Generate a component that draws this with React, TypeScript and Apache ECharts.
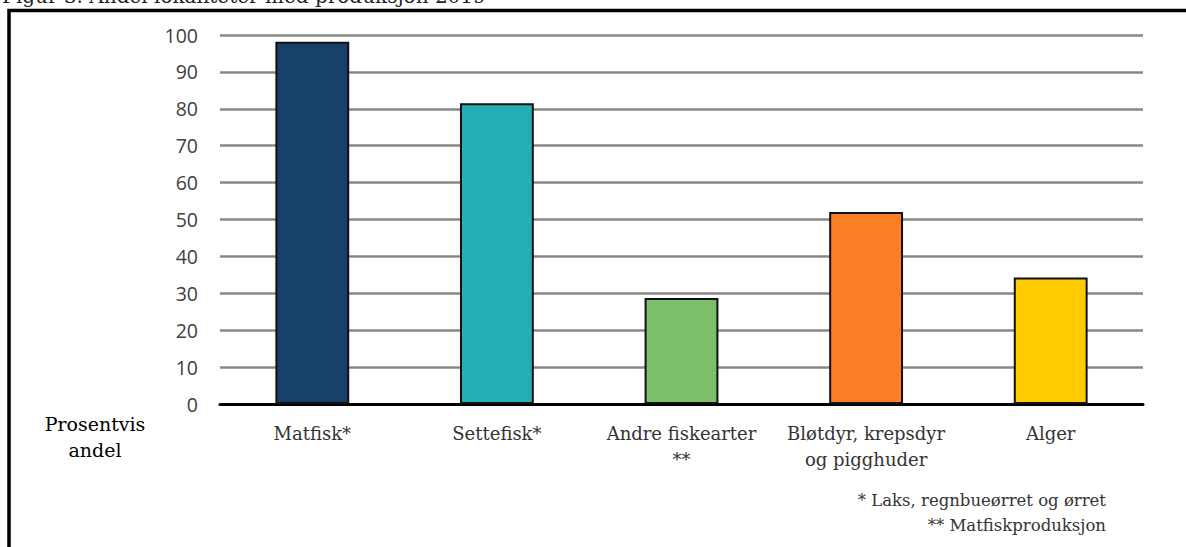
import React, { useEffect, useRef } from "react";
import * as echarts from "echarts";

const categories = ["Matfisk*", "Settefisk*", "Andre fiskearter\n**", "Bløtdyr, krepsdyr\nog pigghuder", "Alger"];
const values = [98.2, 81.5, 28.7, 52.0, 34.3];
const colors = ["#17406A", "#24AFB5", "#7DBE6A", "#FB7E25", "#FFCC00"];
const yTicks = [0, 10, 20, 30, 40, 50, 60, 70, 80, 90, 100];
const titleText = "Figur 3. Andel lokaliteter med produksjon 2019";
const yAxisTitle = "Prosentvis\nandel";
const footnotes = ["* Laks, regnbueørret og ørret", "** Matfiskproduksjon"];

const SERIF = "DejaVu Serif";
const SANS = "Open Sans";

export default function App() {
  const ref = useRef<HTMLDivElement>(null);
  useEffect(() => {
    if (!ref.current) return;
    const chart = echarts.init(ref.current, undefined, { renderer: "svg" });
    chart.setOption({
      animation: false,
      backgroundColor: "#ffffff",
      grid: { left: 220, right: 43, top: 35, bottom: 143, containLabel: false },
      xAxis: {
        type: "category",
        data: categories,
        axisLine: { show: true, lineStyle: { color: "#000000", width: 3 } },
        axisTick: { show: false },
        axisLabel: {
          color: "#333333",
          fontFamily: SERIF,
          fontSize: 18,
          lineHeight: 26,
          margin: 16,
          interval: 0,
        },
      },
      yAxis: {
        type: "value",
        min: yTicks[0],
        max: yTicks[yTicks.length - 1],
        interval: 10,
        axisLine: { show: false },
        axisTick: { show: false },
        splitLine: { show: true, lineStyle: { color: "#888888", width: 2.5 } },
        axisLabel: { color: "#404040", fontFamily: SANS, fontSize: 19.5, margin: 22 },
      },
      series: [
        {
          type: "bar",
          barWidth: "40%",
          data: values.map((v, i) => ({
            value: v,
            itemStyle: { color: colors[i], borderColor: "#111111", borderWidth: 2 },
          })),
        },
      ],
      graphic: [
        {
          type: "text",
          left: 2,
          top: -14,
          style: { text: titleText, fontFamily: SERIF, fontSize: 20, fill: "#222222" },
        },
        {
          type: "polyline",
          shape: { points: [[9, 560], [9, 10.5], [1200, 10.5]] },
          style: { stroke: "#000000", lineWidth: 3.5, fill: "none" },
        },
        {
          type: "text",
          x: 95,
          y: 411,
          style: {
            text: yAxisTitle,
            fontFamily: SERIF,
            fontSize: 19,
            lineHeight: 26,
            align: "center",
            fill: "#000000",
          },
        },
        {
          type: "text",
          x: 1106,
          y: 488,
          style: {
            text: footnotes.join("\n"),
            fontFamily: SERIF,
            fontSize: 16.5,
            lineHeight: 25,
            align: "right",
            fill: "#333333",
          },
        },
      ],
    });
    return () => chart.dispose();
  }, []);
  return (
    <div
      ref={ref}
      style={{ position: "absolute", left: 0, top: 0, width: 1186, height: 547 }}
    />
  );
}
